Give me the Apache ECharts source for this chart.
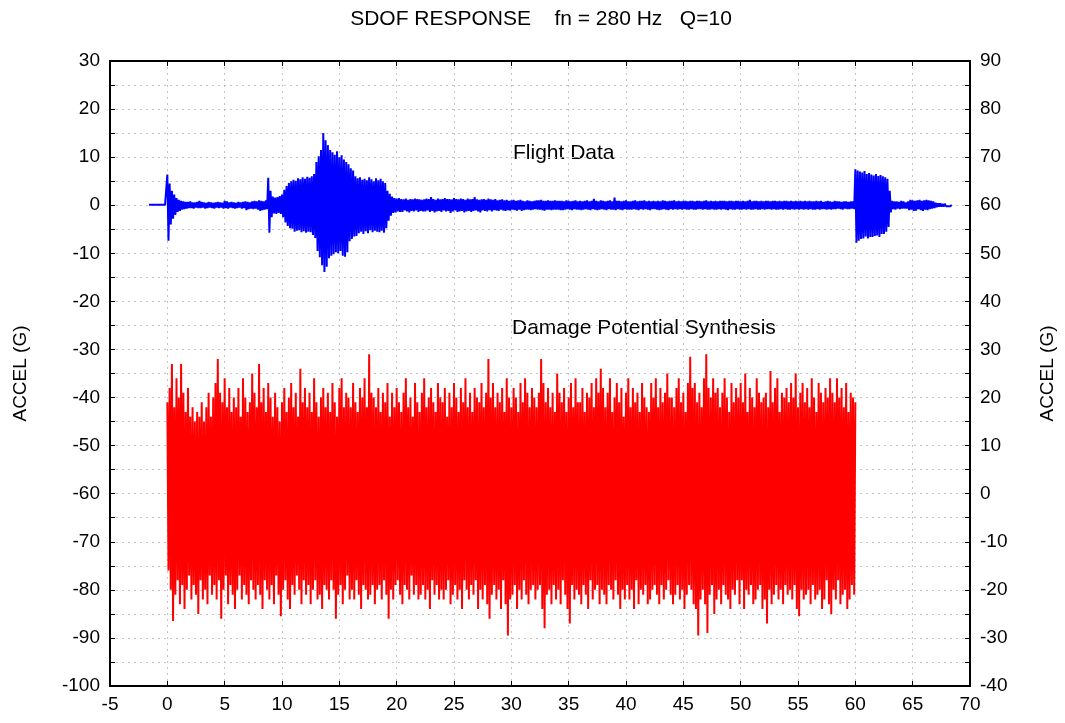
<!DOCTYPE html>
<html>
<head>
<meta charset="utf-8">
<script src="https://cdn.jsdelivr.net/npm/echarts@6/dist/echarts.min.js"></script>
<style>html,body{margin:0;padding:0;background:#fff}#c{width:1065px;height:723px}</style>
</head>
<body>
<div id="c"></div>
<script>
// X axis ticks (s), Y ticks
const xTicks = [-5,0,5,10,15,20,25,30,35,40,45,50,55,60,65,70];
const leftTicks = [-100,-90,-80,-70,-60,-50,-40,-30,-20,-10,0,10,20,30];
const rightTicks = [-40,-30,-20,-10,0,10,20,30,40,50,60,70,80,90];

// Flight data: alternating positive / negative response peaks (G, left axis), every 0.1 s from t = -1.6 s
const flightT0 = -1.6;
const flightDt = 0.1;
const flightPeaks = [
 0.1,-0.1,0.1,-0.1,0.1,-0.1,0.1,-0.1,0.1,-0.1,0.1,-0.1,0.1,-0.1,0.1,-0.2,6.4,-7.4,4.5,-4.0,
 3.0,-2.8,2.2,-2.0,1.5,-1.4,1.1,-1.2,0.9,-0.9,0.8,-0.8,0.7,-0.7,0.7,-0.6,0.8,-0.6,0.6,-0.7,
 0.6,-0.5,0.7,-0.6,0.9,-0.6,0.7,-0.5,0.6,-0.7,0.5,-0.6,0.7,-0.5,0.6,-0.6,0.5,-0.7,0.6,-0.5,
 0.7,-0.6,0.6,-0.5,0.5,-0.7,0.9,-0.6,0.8,-0.7,0.6,-0.5,0.7,-0.6,0.6,-0.7,0.5,-0.6,0.7,-0.5,
 0.6,-0.7,0.7,-0.6,0.8,-1.0,0.7,-0.8,0.6,-0.7,0.8,-0.8,0.9,-0.7,0.8,-0.9,1.0,-1.2,0.9,-1.0,
 0.8,-0.9,1.0,-0.8,5.7,-5.7,3.0,-2.5,1.8,-1.7,1.6,-1.8,1.7,-1.6,1.9,-1.8,2.2,-2.5,3.2,-3.6,
 4.0,-4.3,4.6,-4.8,5.0,-4.9,5.3,-5.5,5.1,-5.3,5.6,-5.2,5.4,-5.6,5.8,-5.4,5.5,-5.7,5.9,-5.5,
 5.7,-5.6,6.0,-6.2,6.5,-6.8,9.0,-9.5,10.2,-10.8,11.5,-12.5,15.0,-13.9,13.5,-12.8,12.5,-11.0,11.5,-10.5,
 11.0,-10.2,10.5,-9.8,11.2,-10.0,10.0,-9.5,10.4,-10.5,9.5,-10.7,9.0,-9.8,8.5,-7.5,7.7,-7.0,7.2,-6.5,
 6.0,-6.4,5.6,-5.8,5.8,-5.5,5.3,-6.0,5.5,-5.4,5.2,-5.8,5.8,-5.2,5.4,-5.6,5.0,-5.3,5.6,-5.5,
 5.2,-5.6,5.5,-5.3,5.0,-5.7,4.6,-4.8,3.0,-3.2,2.4,-2.2,1.8,-1.6,1.5,-1.5,1.4,-1.3,1.5,-1.4,
 1.3,-1.4,1.2,-1.1,1.4,-1.3,1.1,-1.5,1.3,-1.2,1.2,-1.3,1.4,-1.1,1.3,-1.4,1.2,-1.2,1.1,-1.3,
 1.2,-1.3,1.4,-1.1,1.3,-1.4,1.7,-1.2,1.3,-1.5,1.1,-1.3,1.4,-1.2,1.2,-1.4,1.3,-1.1,1.5,-1.3,
 1.3,-1.2,1.3,-1.6,1.2,-1.3,1.5,-1.1,1.3,-1.4,1.2,-1.3,1.4,-1.2,1.3,-1.5,1.1,-1.3,1.4,-1.2,
 1.2,-1.4,1.3,-1.2,1.7,-1.1,1.2,-1.3,1.1,-1.5,1.2,-1.1,1.3,-1.2,1.1,-1.3,1.4,-1.0,1.2,-1.3,
 1.1,-1.0,1.3,-1.1,1.0,-1.2,1.1,-0.9,1.2,-1.1,1.0,-1.2,1.1,-1.0,0.9,-1.1,1.0,-0.9,1.1,-1.0,
 0.9,-1.1,1.0,-0.9,1.1,-1.2,0.9,-1.0,0.8,-0.9,1.0,-0.9,0.9,-1.0,0.8,-0.9,0.9,-0.8,1.0,-0.9,
 1.0,-0.9,1.1,-1.0,0.9,-1.1,0.9,-0.9,1.0,-0.9,0.9,-1.0,0.9,-0.9,1.0,-0.9,0.9,-0.9,0.9,-1.0,
 0.9,-1.0,0.8,-0.9,1.0,-0.8,0.9,-0.9,0.8,-1.0,0.9,-0.8,1.0,-0.9,0.8,-0.9,0.9,-1.0,0.8,-0.9,
 0.9,-0.8,1.0,-0.9,0.8,-1.0,0.9,-0.8,1.3,-0.9,0.9,-1.0,0.8,-0.9,1.0,-0.8,0.9,-0.9,0.8,-1.0,
 0.9,-0.8,1.0,-0.9,0.8,-0.9,1.6,-1.0,0.9,-0.8,0.9,-0.9,0.8,-1.0,0.9,-0.8,1.0,-0.9,0.8,-0.9,
 0.8,-0.9,0.9,-0.8,1.0,-0.9,0.8,-1.0,0.9,-0.8,0.9,-0.9,1.0,-0.8,0.8,-0.9,0.9,-1.0,0.8,-0.8,
 0.9,-0.8,0.8,-0.9,0.9,-1.0,0.8,-0.9,1.0,-0.8,0.9,-0.9,0.8,-1.0,0.9,-0.8,0.9,-0.9,1.0,-0.8,
 0.8,-0.9,0.9,-0.8,0.8,-0.9,0.9,-0.8,0.9,-0.9,0.8,-0.9,0.9,-0.8,0.9,-0.9,0.8,-0.9,0.9,-0.8,
 0.9,-0.8,0.8,-0.9,0.9,-0.8,1.0,-0.9,0.8,-0.9,0.9,-0.8,0.8,-0.9,0.9,-0.9,0.8,-0.8,0.9,-0.9,
 0.9,-0.8,0.9,-0.9,0.8,-1.0,0.9,-0.8,0.9,-0.9,0.8,-0.9,0.9,-0.8,0.9,-0.9,0.8,-0.9,0.9,-0.8,
 0.8,-0.9,0.9,-0.8,1.1,-0.9,0.8,-0.9,0.9,-0.8,0.9,-0.9,0.8,-0.9,0.9,-0.8,0.8,-0.9,0.9,-0.8,
 0.9,-0.8,0.8,-0.9,0.9,-0.8,0.9,-0.9,0.8,-0.9,0.9,-0.8,0.8,-0.9,0.9,-0.8,0.9,-0.9,0.8,-0.9,
 0.9,-0.8,0.8,-0.9,0.9,-0.8,0.8,-0.9,0.9,-0.8,0.8,-0.9,0.9,-0.8,0.8,-0.9,0.9,-0.8,0.8,-0.9,
 0.8,-0.9,0.9,-0.8,0.8,-0.9,0.9,-0.8,0.7,-0.8,0.8,-0.9,0.9,-0.8,0.8,-0.9,0.7,-0.8,0.9,-0.8,
 0.8,-0.7,0.8,-0.8,0.7,-0.9,0.8,-0.7,0.8,-0.8,0.7,-0.8,0.8,-0.7,0.8,-0.8,7.5,-7.8,7.2,-7.4,
 7.0,-7.0,6.8,-6.9,7.1,-6.5,6.5,-6.9,6.7,-6.6,6.4,-6.6,6.2,-6.4,6.5,-6.3,6.1,-6.6,6.3,-6.0,
 6.0,-6.0,5.8,-5.5,5.5,-4.5,3.0,-1.5,0.9,-0.8,0.8,-0.9,0.8,-0.7,0.7,-0.8,0.9,-0.7,0.8,-0.7,
 0.6,-0.7,0.8,-1.0,1.1,-0.9,1.0,-1.2,0.9,-1.1,1.0,-0.8,1.1,-1.0,0.9,-1.2,1.0,-0.9,1.1,-1.0,
 1.0,-0.8,0.9,-0.7,0.8,-0.6,0.5,-0.4,0.4,-0.3,0.4,-0.3,0.3,-0.3,0.3,-0.2,0.2,-0.2,0.2,-0.2,
 0.1
];

// Damage potential synthesis: alternating peaks (G, right axis), every 0.1 s from t = 0
const synthT0 = 0;
const synthDt = 0.1;
const synthPeaks = [
 19,-16,22,-20,27,-26.5,18,-21,24,-18,20,-23,27,-19,21,-24,17,-20,22,-17,
 16,-22,18,-19,15,-21,17,-25,16,-18,19,-22,15,-20,18,-23,21,-17,16,-21,
 20,-19,23,-22,28,-18,21,-26,19,-20,24,-17,18,-23,22,-19,17,-21,20,-24,
 18,-20,22,-17,16,-22,24,-19,20,-21,17,-23,19,-18,25,-20,21,-22,18,-19,
 27,-21,19,-24,22,-18,17,-20,23,-22,20,-19,16,-23,21,-17,18,-21,15,-25.5,
 19,-20,22,-18,17,-22,20,-24,23,-19,18,-21,21,-17,16,-20,26,-23,19,-18,
 22,-21,18,-19,21,-23,17,-20,24,-18,19,-22,16,-21,20,-24,22,-19,18,-20,
 21,-22,17,-18,23,-20,19,-26,16,-21,22,-19,24,-23,18,-20,21,-17,20,-22,
 18,-20,23,-22,19,-18,17,-21,22,-24,20,-19,24,-20,18,-22,29,-21,21,-19,
 20,-23,18,-20,22,-19,17,-22,21,-18,19,-21,23,-26,16,-20,21,-22,18,-19,
 22,-18,19,-21,17,-23,21,-19,24,-20,18,-22,20,-17,16,-21,23,-19,19,-22,
 17,-21,21,-19,24,-22,18,-20,20,-24,22,-18,19,-21,17,-19,23,-22,20,-20,
 19,-22,22,-20,16,-18,21,-23,18,-21,23,-19,20,-22,17,-20,22,-24,19,-18,
 24,-20,18,-22,21,-19,17,-21,22,-18,20,-24,19,-20,23,-22,18,-19,21,-23,
 28,-26,20,-21,23,-19,18,-22,21,-20,19,-24,22,-18,17,-23,24,-29.5,20,-22,
 18,-21,22,-19,20,-24,17,-20,23,-22,19,-18,24,-21,21,-23,18,-20,22,-19,
 20,-22,18,-20,21,-19,28,-24,23,-28,19,-21,22,-20,18,-23,21,-19,17,-22,
 25,-20,21,-23,19,-18,22,-21,17,-24,20,-27,23,-19,18,-22,24,-20,19,-21,
 19,-23,22,-19,17,-21,21,-24,20,-18,23,-22,18,-20,24,-19,21,-23,26,-20,
 22,-21,18,-23,21,-19,24,-20,17,-22,20,-18,23,-21,19,-24,22,-20,16,-22,
 21,-19,24,-22,18,-20,22,-24,19,-18,21,-23,17,-20,23,-21,20,-19,18,-23,
 17,-22,23,-20,20,-19,24,-21,18,-23,22,-19,19,-22,21,-20,25,-18,20,-21,
 20,-23,18,-21,22,-19,24,-22,19,-20,21,-24,17,-21,23,-19,28.5,-20,22,-23,
 23,-24,19,-29.5,21,-22,18,-20,24,-23,29,-29,22,-21,20,-19,24,-25,21,-22,
 22,-20,18,-23,21,-19,24,-21,20,-22,17,-24,23,-20,19,-21,22,-18,20,-23,
 23,-18,19,-24,25,-20,17,-21,22,-19,20,-23,18,-22,24,-20,21,-19,19,-24,
 20,-22,21,-27,18,-20,25.5,-23,19,-21,22,-19,24,-22,17,-20,21,-23,20,-19,
 22,-21,19,-20,23,-22,20,-19,25,-24,18,-25.5,21,-20,23,-22,19,-21,22,-20,
 18,-23,24,-19,20,-22,17,-21,23,-20,21,-24,19,-22,22,-18,20,-23,24,-25,
 21,-20,19,-22,24,-18,20,-23,22,-21,18,-20,23,-24,17,-22,21,-19,20,-21,
 19
];

const flightData = flightPeaks.map((v, i) => [+(flightT0 + i * flightDt).toFixed(2), v]);
const synthData = synthPeaks.map((v, i) => [+(synthT0 + i * synthDt).toFixed(2), v]);

const FONT = '"Liberation Sans", Arial, sans-serif';
const gridLine = { show: true, lineStyle: { color: '#c4c4c4', type: [2, 4], width: 1 } };
const axisLineBlack = { show: true, onZero: false, lineStyle: { color: '#000', width: 2 } };
const lbl = { color: '#000', fontSize: 19, fontFamily: FONT };

const chart = echarts.init(document.getElementById('c'), null, { renderer: 'canvas' });
chart.setOption({
  animation: false,
  backgroundColor: '#fff',
  title: {
    text: 'SDOF RESPONSE    fn = 280 Hz   Q=10',
    left: 536, top: 4, textAlign: 'center',
    textStyle: { color: '#000', fontSize: 21, fontWeight: 'normal', fontFamily: FONT }
  },
  grid: { left: 110, right: 93, top: 61, bottom: 37, containLabel: false },
  xAxis: [
    {
      type: 'value', min: xTicks[0], max: xTicks[xTicks.length - 1], interval: 5,
      position: 'bottom',
      axisLine: axisLineBlack,
      axisTick: { show: true, inside: true, length: 5, lineStyle: { color: '#000' } },
      axisLabel: Object.assign({ margin: 9 }, lbl),
      splitLine: gridLine
    },
    {
      type: 'value', min: xTicks[0], max: xTicks[xTicks.length - 1], interval: 5,
      position: 'top',
      axisLine: axisLineBlack,
      axisTick: { show: true, inside: true, length: 5, lineStyle: { color: '#000' } },
      axisLabel: { show: false },
      splitLine: { show: false }
    }
  ],
  yAxis: [
    {
      type: 'value', min: leftTicks[0], max: leftTicks[leftTicks.length - 1], interval: 10,
      position: 'left',
      name: 'ACCEL (G)', nameLocation: 'middle', nameGap: 80, nameRotate: 90,
      nameTextStyle: { color: '#000', fontSize: 19, fontFamily: FONT },
      axisLine: axisLineBlack,
      axisTick: { show: true, inside: true, length: 5, lineStyle: { color: '#000' } },
      minorTick: { show: true, splitNumber: 2, length: 5, lineStyle: { color: '#000' } },
      axisLabel: Object.assign({ margin: 10 }, lbl),
      splitLine: gridLine,
      minorSplitLine: gridLine
    },
    {
      type: 'value', min: rightTicks[0], max: rightTicks[rightTicks.length - 1], interval: 10,
      position: 'right',
      name: 'ACCEL (G)', nameLocation: 'middle', nameGap: 68, nameRotate: 90,
      nameTextStyle: { color: '#000', fontSize: 19, fontFamily: FONT },
      axisLine: axisLineBlack,
      axisTick: { show: true, inside: true, length: 5, lineStyle: { color: '#000' } },
      minorTick: { show: true, splitNumber: 2, length: 5, lineStyle: { color: '#000' } },
      axisLabel: Object.assign({ margin: 10 }, lbl),
      splitLine: { show: false }
    }
  ],
  graphic: [
    { type: 'text', left: 513, top: 143, style: { text: 'Flight Data', fill: '#000', font: '21px ' + FONT } },
    { type: 'text', left: 512, top: 318, style: { text: 'Damage Potential Synthesis', fill: '#000', font: '21px ' + FONT } }
  ],
  series: [
    {
      name: 'Damage Potential Synthesis', type: 'line', xAxisIndex: 0, yAxisIndex: 1,
      data: synthData, showSymbol: false, symbol: 'none', sampling: null,
      lineStyle: { color: '#ff0000', width: 2, join: 'bevel' }, z: 3
    },
    {
      name: 'Flight Data', type: 'line', xAxisIndex: 0, yAxisIndex: 0,
      data: flightData, showSymbol: false, symbol: 'none', sampling: null,
      lineStyle: { color: '#0000ff', width: 2, join: 'bevel' }, z: 4
    }
  ]
});
</script>
</body>
</html>
